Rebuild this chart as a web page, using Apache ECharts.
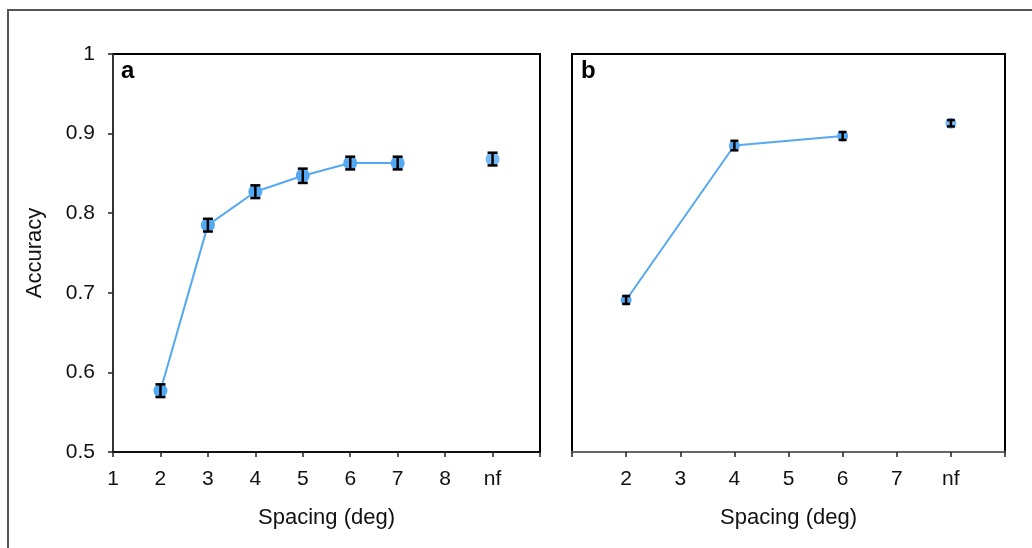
<!DOCTYPE html>
<html>
<head>
<meta charset="utf-8">
<script src="https://cdn.jsdelivr.net/npm/echarts@6/dist/echarts.min.js"></script>
<style>
html,body{margin:0;padding:0;background:#fff;}
#c{width:1032px;height:548px;}
</style>
</head>
<body>
<div id="c"></div>
<script>
// Panel a data
const aX = [2, 3, 4, 5, 6, 7];
const aY = [0.577, 0.785, 0.827, 0.847, 0.863, 0.863];
const aErr = [0.008, 0.008, 0.008, 0.009, 0.008, 0.008];
const aNfX = 9, aNfY = 0.868, aNfErr = 0.008;
// Panel b data
const bX = [2, 4, 6];
const bY = [0.691, 0.885, 0.897];
const bErr = [0.005, 0.006, 0.005];
const bNfX = 8, bNfY = 0.913, bNfErr = 0.004;
// Tick labels
const aTickLabels = {1:'1',2:'2',3:'3',4:'4',5:'5',6:'6',7:'7',8:'8',9:'nf',10:''};
const bTickLabels = {1:'',2:'2',3:'3',4:'4',5:'5',6:'6',7:'7',8:'nf',9:''};

const FONT = '"Liberation Sans", Arial, Helvetica, sans-serif';
const BLUE = '#55a8f2';

function pairs(xs, ys){ return xs.map((x,i)=>[x, ys[i]]); }
function errData(xs, ys, es){ return xs.map((x,i)=>[x, ys[i]-es[i], ys[i]+es[i]]); }

function errSeries(idx, data, cap){
  return {
    type: 'custom', xAxisIndex: idx, yAxisIndex: idx, z: 5,
    data: data,
    renderItem: function(params, api){
      const x = api.value(0);
      const lo = api.coord([x, api.value(1)]);
      const hi = api.coord([x, api.value(2)]);
      const st = {stroke:'#000', lineWidth:2.5};
      return {type:'group', children:[
        {type:'line', shape:{x1:lo[0], y1:lo[1], x2:hi[0], y2:hi[1]}, style:st},
        {type:'line', shape:{x1:lo[0]-cap, y1:lo[1], x2:lo[0]+cap, y2:lo[1]}, style:st},
        {type:'line', shape:{x1:hi[0]-cap, y1:hi[1], x2:hi[0]+cap, y2:hi[1]}, style:st}
      ]};
    }
  };
}

const chart = echarts.init(document.getElementById('c'), null, {renderer:'canvas'});
const xAxisCommon = {
  type:'value', interval:1, splitLine:{show:false},
  axisTick:{show:true, length:5, lineStyle:{color:'#222', width:1.5}},
  axisLabel:{fontFamily:FONT, fontSize:21, color:'#111', margin:17},
  nameLocation:'middle', nameGap:55,
  nameTextStyle:{fontFamily:FONT, fontSize:22, color:'#111'}
};
chart.setOption({
  animation:false,
  backgroundColor:'#fff',
  graphic:[
    {type:'rect', shape:{x:8, y:10, width:1200, height:700}, style:{fill:'none', stroke:'#555', lineWidth:2}, silent:true},
    {type:'text', left:121, top:59, style:{text:'a', font:'bold 24px '+FONT, fill:'#000'}},
    {type:'text', left:581, top:59, style:{text:'b', font:'bold 24px '+FONT, fill:'#000'}}
  ],
  grid:[
    {left:113, top:54, width:427, height:398, show:true, borderColor:'#000', borderWidth:2, backgroundColor:'transparent'},
    {left:572, top:54, width:433, height:398, show:true, borderColor:'#000', borderWidth:2, backgroundColor:'transparent'}
  ],
  xAxis:[
    Object.assign({}, xAxisCommon, {gridIndex:0, min:1, max:10, name:'Spacing (deg)',
      axisLine:{show:true, onZero:false, lineStyle:{color:'#111', width:2}},
      axisLabel:Object.assign({}, xAxisCommon.axisLabel, {formatter:v=>aTickLabels[v] ?? ''})}),
    Object.assign({}, xAxisCommon, {gridIndex:1, min:1, max:9, name:'Spacing (deg)',
      axisLine:{show:true, onZero:false, lineStyle:{color:'#666', width:2}},
      axisLabel:Object.assign({}, xAxisCommon.axisLabel, {formatter:v=>bTickLabels[v] ?? ''})})
  ],
  yAxis:[
    {type:'value', gridIndex:0, min:0.5, max:1, interval:0.1, splitLine:{show:false},
     axisLine:{show:true, lineStyle:{color:'#444', width:1.5}},
     axisTick:{show:true, length:5, lineStyle:{color:'#222', width:1.5}},
     axisLabel:{fontFamily:FONT, fontSize:21, color:'#111', margin:18},
     name:'Accuracy', nameLocation:'middle', nameGap:67, nameRotate:90,
     nameTextStyle:{fontFamily:FONT, fontSize:22, color:'#111'}},
    {type:'value', gridIndex:1, min:0.5, max:1, interval:0.1, splitLine:{show:false},
     axisLine:{show:true, lineStyle:{color:'#000', width:2}},
     axisTick:{show:false}, axisLabel:{show:false}}
  ],
  series:[
    {type:'line', xAxisIndex:0, yAxisIndex:0, data:pairs(aX,aY), symbol:'circle', symbolSize:14,
     lineStyle:{color:BLUE, width:2}, itemStyle:{color:BLUE}, z:3},
    {type:'scatter', xAxisIndex:0, yAxisIndex:0, data:[[aNfX,aNfY]], symbol:'circle', symbolSize:14,
     itemStyle:{color:BLUE}, z:3},
    errSeries(0, errData(aX,aY,aErr).concat([[aNfX,aNfY-aNfErr,aNfY+aNfErr]]), 5),
    {type:'line', xAxisIndex:1, yAxisIndex:1, data:pairs(bX,bY), symbol:'circle', symbolSize:11,
     lineStyle:{color:BLUE, width:2}, itemStyle:{color:BLUE}, z:3},
    {type:'scatter', xAxisIndex:1, yAxisIndex:1, data:[[bNfX,bNfY]], symbol:'circle', symbolSize:11,
     itemStyle:{color:BLUE}, z:3},
    errSeries(1, errData(bX,bY,bErr).concat([[bNfX,bNfY-bNfErr,bNfY+bNfErr]]), 4)
  ]
});
</script>
</body>
</html>
